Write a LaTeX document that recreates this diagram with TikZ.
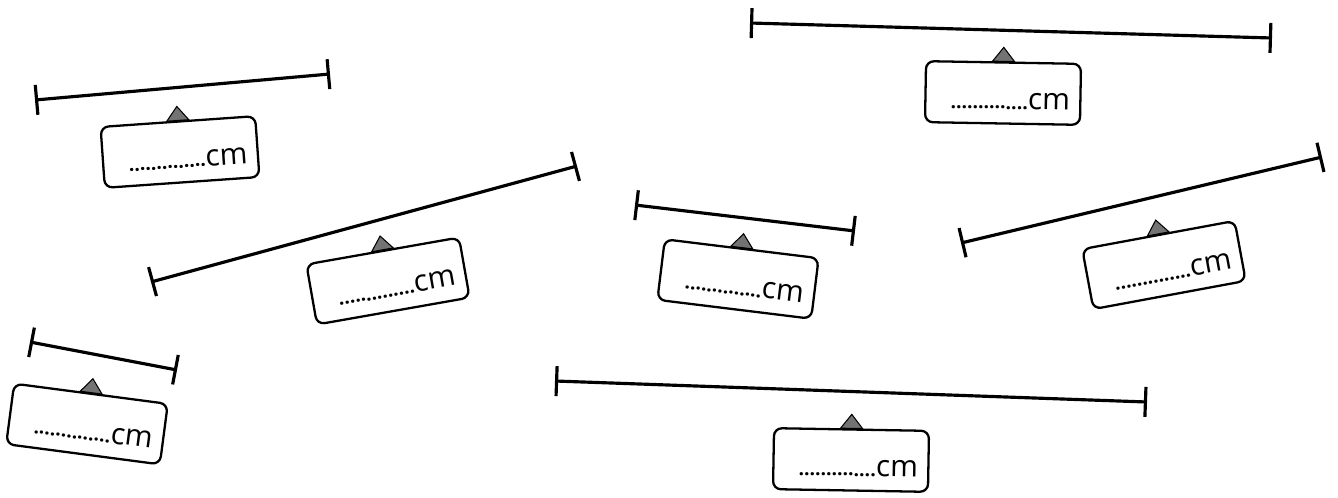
\documentclass[tikz,border=0pt]{standalone}
\usepackage{fontspec}
\setsansfont{Open Sans}
\usepackage{tikz}
\usetikzlibrary{arrows.meta,calc}

\newcommand{\blankcm}{\hspace*{0.3cm}{\fontsize{11}{12}\selectfont\bfseries ..............}{\fontsize{17}{20}\selectfont cm}}

\begin{document}
\begin{tikzpicture}
[x=0.02cm,y=-0.02cm]
\tikzstyle{measure}=[line width=1.8pt,arrows={Bar[width=0.6cm]-Bar[width=0.6cm]}]
\tikzstyle{answer box}=[draw,rounded corners=4.5pt,line width=1.3pt,minimum width=3.1cm,minimum height=1.22cm,text height=0.64cm,text depth=0pt,font=\sffamily]
\tikzstyle{tab}=[draw,fill=black!55,line width=0.6pt]

\useasboundingbox(0,0)rectangle(1338,497);

% segments to measure
\coordinate(a1)at(35,100);  \coordinate(b1)at(330,74);
\coordinate(a2)at(750,23);  \coordinate(b2)at(1272,38);
\coordinate(a3)at(151,282); \coordinate(b3)at(577,166);
\coordinate(a4)at(635,205); \coordinate(b4)at(855,231);
\coordinate(a5)at(961,243); \coordinate(b5)at(1322,157);
\coordinate(a6)at(30,342);  \coordinate(b6)at(177,370);
\coordinate(a7)at(555,381); \coordinate(b7)at(1147,402);

\draw[measure](a1)--(b1);
\draw[measure](a2)--(b2);
\draw[measure](a3)--(b3);
\draw[measure](a4)--(b4);
\draw[measure](a5)--(b5);
\draw[measure](a6)--(b6);
\draw[measure](a7)--(b7);

% answer boxes
\node(box1)[answer box,rotate=4]at(180,152){\blankcm};
\node(box2)[answer box,rotate=-1]at(1003,93){\blankcm};
\node(box3)[answer box,rotate=10]at(388,281){\blankcm};
\node(box4)[answer box,rotate=-7]at(738,279){\blankcm};
\node(box5)[answer box,rotate=10.5]at(1164,265){\blankcm};
\node(box6)[answer box,rotate=-7.5]at(87,424){\blankcm};
\node(box7)[answer box,rotate=-1]at(851,460){\blankcm};

% little tabs on top
\filldraw[tab]($(box1.north)!0.22cm!(box1.north west)$)--($(box1.north)!0.28cm!90:(box1.north east)$)--($(box1.north)!0.22cm!(box1.north east)$)--cycle;
\filldraw[tab]($(box2.north)!0.22cm!(box2.north west)$)--($(box2.north)!0.28cm!90:(box2.north east)$)--($(box2.north)!0.22cm!(box2.north east)$)--cycle;
\filldraw[tab]($(box3.north)!0.22cm!(box3.north west)$)--($(box3.north)!0.28cm!90:(box3.north east)$)--($(box3.north)!0.22cm!(box3.north east)$)--cycle;
\filldraw[tab]($(box4.north)!0.22cm!(box4.north west)$)--($(box4.north)!0.28cm!90:(box4.north east)$)--($(box4.north)!0.22cm!(box4.north east)$)--cycle;
\filldraw[tab]($(box5.north)!0.22cm!(box5.north west)$)--($(box5.north)!0.28cm!90:(box5.north east)$)--($(box5.north)!0.22cm!(box5.north east)$)--cycle;
\filldraw[tab]($(box6.north)!0.22cm!(box6.north west)$)--($(box6.north)!0.28cm!90:(box6.north east)$)--($(box6.north)!0.22cm!(box6.north east)$)--cycle;
\filldraw[tab]($(box7.north)!0.22cm!(box7.north west)$)--($(box7.north)!0.28cm!90:(box7.north east)$)--($(box7.north)!0.22cm!(box7.north east)$)--cycle;
\end{tikzpicture}
\end{document}
